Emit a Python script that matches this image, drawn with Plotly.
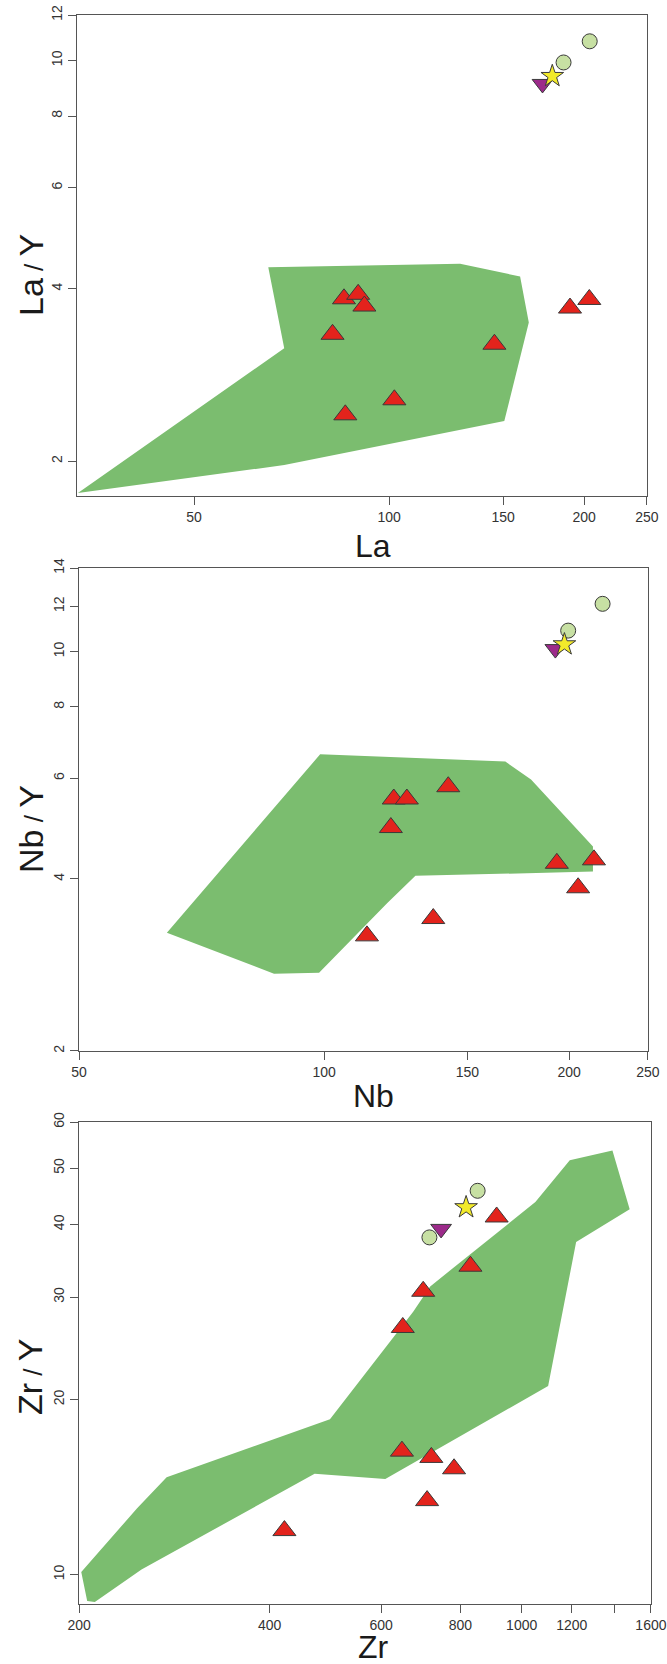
import numpy as np
import plotly.graph_objects as go

# ---------------- Panel 1: La vs La/Y ----------------
la_tri_x = [85.2, 89.6, 91.6, 81.8, 145.4, 101.9, 85.6, 190.2, 203.7]
la_tri_y = [3.84, 3.91, 3.73, 3.33, 3.20, 2.56, 2.41, 3.70, 3.83]
la_circ_x = [185.9, 204.0]
la_circ_y = [9.92, 10.8]
la_star_x = [178.6]
la_star_y = [9.39]
la_down_x = [172.5]
la_down_y = [9.10]
la_poly_x = [65.1, 128.7, 159.3, 164.3, 150.6, 68.9, 33.1, 68.9, 65.1]
la_poly_y = [4.36, 4.42, 4.20, 3.49, 2.35, 1.97, 1.76, 3.15, 4.36]
la_xticks = [50, 100, 150, 200, 250]
la_yticks = [2, 4, 6, 8, 10, 12]

# ---------------- Panel 2: Nb vs Nb/Y ----------------
nb_tri_x = [121.8, 126.4, 142.1, 120.8, 193.2, 214.6, 205.2, 136.2, 112.9]
nb_tri_y = [5.52, 5.52, 5.80, 4.92, 4.26, 4.32, 3.86, 3.41, 3.18]
nb_circ_x = [219.9, 199.5]
nb_circ_y = [12.12, 10.88]
nb_star_x = [197.4]
nb_star_y = [10.29]
nb_down_x = [192.4]
nb_down_y = [10.1]
nb_poly_x = [98.9, 167.0, 179.6, 214.0, 214.0, 129.5, 119.6, 98.6, 86.8, 64.1, 98.9]
nb_poly_y = [6.61, 6.42, 5.97, 4.56, 4.12, 4.05, 3.63, 2.74, 2.73, 3.22, 6.61]
nb_xticks = [50, 100, 150, 200, 250]
nb_yticks = [2, 4, 6, 8, 10, 12, 14]

# ---------------- Panel 3: Zr vs Zr/Y ----------------
zr_tri_x = [913, 830, 699, 649, 647, 720, 782, 709, 422]
zr_tri_y = [41.2, 33.9, 30.7, 26.6, 16.3, 15.9, 15.2, 13.4, 11.9]
zr_circ_x = [852, 715]
zr_circ_y = [45.7, 38.0]
zr_star_x = [817]
zr_star_y = [42.8]
zr_down_x = [746]
zr_down_y = [39.3]
zr_poly_x = [1391, 1191, 1051, 717, 674, 498, 275, 247, 201.6, 206, 211.8,
             251, 471, 609, 1101, 1219, 1481, 1391]
zr_poly_y = [53.6, 51.6, 43.7, 31.3, 28.3, 18.5, 14.7, 13.0, 10.1, 9.0, 8.97,
             10.2, 14.9, 14.6, 21.1, 37.3, 42.5, 53.6]
zr_xticks = [200, 400, 600, 800, 1000, 1200, 1400, 1600]
zr_xticklabels = ["200", "400", "600", "800", "1000", "1200", "", "1600"]
zr_yticks = [10, 20, 30, 40, 50, 60]

# ---------------- styles ----------------
W, H = 667, 1664
GREEN = "#7bbd6f"
RED = "#e3231c"
CIRC = "#c7e0a3"
YELLOW = "#f2ea2a"
PURPLE = "#9c2a8a"
EDGE = "#3a3a3a"
AXC = "#555555"
FONT = "Liberation Sans, Arial, sans-serif"
EPS = 1e-4

fig = go.Figure()

panels = [
    dict(px=la_poly_x, py=la_poly_y, tx=la_tri_x, ty=la_tri_y, cx=la_circ_x, cy=la_circ_y,
         sx=la_star_x, sy=la_star_y, dx=la_down_x, dy=la_down_y, ax="x", ay="y"),
    dict(px=nb_poly_x, py=nb_poly_y, tx=nb_tri_x, ty=nb_tri_y, cx=nb_circ_x, cy=nb_circ_y,
         sx=nb_star_x, sy=nb_star_y, dx=nb_down_x, dy=nb_down_y, ax="x2", ay="y2"),
    dict(px=zr_poly_x, py=zr_poly_y, tx=zr_tri_x, ty=zr_tri_y, cx=zr_circ_x, cy=zr_circ_y,
         sx=zr_star_x, sy=zr_star_y, dx=zr_down_x, dy=zr_down_y, ax="x3", ay="y3"),
]

for p in panels:
    fig.add_trace(go.Scatter(x=p["px"], y=p["py"], mode="lines", fill="toself",
                             fillcolor=GREEN, line=dict(width=0, color=GREEN),
                             xaxis=p["ax"], yaxis=p["ay"], hoverinfo="skip", showlegend=False))
    fig.add_trace(go.Scatter(x=p["tx"], y=p["ty"], mode="markers",
                             marker=dict(symbol="triangle-up", size=20, color=RED,
                                         line=dict(color=EDGE, width=1)),
                             xaxis=p["ax"], yaxis=p["ay"], showlegend=False))
    fig.add_trace(go.Scatter(x=p["cx"], y=p["cy"], mode="markers",
                             marker=dict(symbol="circle", size=15, color=CIRC,
                                         line=dict(color=EDGE, width=1)),
                             xaxis=p["ax"], yaxis=p["ay"], showlegend=False))
    fig.add_trace(go.Scatter(x=p["dx"], y=p["dy"], mode="markers",
                             marker=dict(symbol="triangle-down", size=18, color=PURPLE,
                                         line=dict(color=EDGE, width=1)),
                             xaxis=p["ax"], yaxis=p["ay"], showlegend=False))
    fig.add_trace(go.Scatter(x=p["sx"], y=p["sy"], mode="markers",
                             marker=dict(symbol="star", size=17, color=YELLOW,
                                         line=dict(color=EDGE, width=1)),
                             xaxis=p["ax"], yaxis=p["ay"], showlegend=False))


def px2x(v):
    return v / W


def px2y(v):
    return 1 - v / H


def xaxis(dom, rng, tickvals, ticktext, anchor):
    return dict(type="log", domain=dom, range=[rng[0] - EPS, rng[1] + EPS],
                tickmode="array", tickvals=tickvals,
                ticktext=ticktext, ticks="outside", ticklen=8, tickcolor=AXC, tickwidth=1,
                showline=True, linecolor=AXC, linewidth=1, mirror=True, showgrid=False,
                zeroline=False, anchor=anchor, automargin=False, ticklabeloverflow="allow",
                tickfont=dict(family=FONT, size=14, color="#333333"))


def yaxis(dom, rng, tickvals, anchor):
    return dict(type="log", domain=dom, range=[rng[0] - EPS, rng[1] + EPS],
                tickmode="array", tickvals=tickvals,
                ticktext=[str(t) for t in tickvals], ticks="outside", ticklen=8,
                tickcolor=AXC, tickwidth=1, tickangle=-90, automargin=False,
                ticklabeloverflow="allow",
                showline=True, linecolor=AXC, linewidth=1, mirror=True, showgrid=False,
                zeroline=False, anchor=anchor,
                tickfont=dict(family=FONT, size=14, color="#333333"))


fig.update_layout(
    width=W, height=H, margin=dict(l=0, r=0, t=0, b=0),
    paper_bgcolor="white", plot_bgcolor="white", showlegend=False,
    xaxis=xaxis([px2x(77), px2x(647)], [np.log10(33), np.log10(250)],
                la_xticks, [str(t) for t in la_xticks], "y"),
    yaxis=yaxis([px2y(496), px2y(15)], [np.log10(1.74), np.log10(12)], la_yticks, "x"),
    xaxis2=xaxis([px2x(79), px2x(648)], [np.log10(50), np.log10(250)],
                 nb_xticks, [str(t) for t in nb_xticks], "y2"),
    yaxis2=yaxis([px2y(1051), px2y(568)], [np.log10(2), np.log10(14)], nb_yticks, "x2"),
    xaxis3=xaxis([px2x(79), px2x(651)], [np.log10(200), np.log10(1600)],
                 zr_xticks, zr_xticklabels, "y3"),
    yaxis3=yaxis([px2y(1604), px2y(1122)], [np.log10(8.9), np.log10(60)], zr_yticks, "x3"),
)

SL = "<span style='font-size:26px'> / </span>"
titles = [
    ("La", 373, 546, 0, 32), ("Nb", 373, 1096, 0, 32), ("Zr", 373, 1647, 0, 32),
    ("La" + SL + "Y", 31, 275, -90, 34),
    ("Nb" + SL + "Y", 31, 829, -90, 34),
    ("Zr" + SL + "Y", 30, 1377, -90, 34),
]
for txt, xp, yp, ang, fs in titles:
    fig.add_annotation(text=txt, x=px2x(xp), y=px2y(yp), xref="paper", yref="paper",
                       showarrow=False, textangle=ang, xanchor="center", yanchor="middle",
                       font=dict(family=FONT, size=fs, color="#1a1a1a"))

fig.write_html(
    "out.html",
    config={"displayModeBar": False},
    post_script="document.body.style.margin='0';document.body.style.overflow='hidden';",
)
